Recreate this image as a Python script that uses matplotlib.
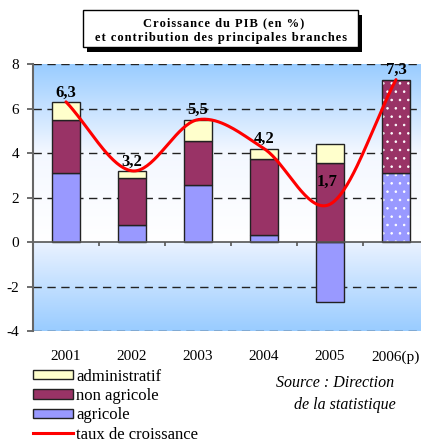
import numpy as np
import matplotlib.pyplot as plt
from matplotlib.colors import LinearSegmentedColormap
from matplotlib.patches import Patch, Rectangle
from matplotlib.lines import Line2D

# Data
years = ['2001', '2002', '2003', '2004', '2005', '2006(p)']
agricole = [3.1, 0.75, 2.55, 0.3, -2.7, 3.1]
non_agricole = [2.4, 2.12, 2.0, 3.45, 3.55, 4.2]
administratif = [0.8, 0.33, 0.95, 0.45, 0.85, 0.0]
croissance = [6.3, 3.2, 5.5, 4.2, 1.7, 7.3]
labels = ['6,3', '3,2', '5,5', '4,2', '1,7', '7,3']
title_lines = ['Croissance du PIB (en %)', 'et contribution des principales branches']

c_adm = '#ffffcc'
c_nag = '#993366'
c_agr = '#9999ff'
edge = '#222222'

plt.rcParams['font.family'] = ['Liberation Serif', 'DejaVu Serif']
plt.rcParams['hatch.linewidth'] = 0.6

fig = plt.figure(figsize=(4.21, 4.42), dpi=100)
ax = fig.add_axes([0.0784, 0.2511, 0.9406, 0.604])
x = np.arange(len(years))

# background gradients
cm_top = LinearSegmentedColormap.from_list('top', ['#ffffff', '#f4f8ff', '#99ccff'])
cm_bot = LinearSegmentedColormap.from_list('bot', ['#99ccff', '#eaf2ff'])
g = np.linspace(0, 1, 256).reshape(-1, 1)
ax.imshow(g, cmap=cm_top, extent=(-0.5, 5.5, 0, 8), origin='lower', aspect='auto', zorder=0)
ax.imshow(g, cmap=cm_bot, extent=(-0.5, 5.5, -4, 0), origin='lower', aspect='auto', zorder=0)
ax.set_xlim(-0.5, 5.5)
ax.set_ylim(-4, 8)

# grid
for yv in [-4, -2, 2, 4, 6, 8]:
    ax.axhline(yv, color='#222222', lw=1.0, ls=(0, (6, 4)), zorder=1)
ax.axhline(0, color='#555555', lw=1.2, zorder=4)

w = 0.41
agr = np.array(agricole)
nag = np.array(non_agricole)
adm = np.array(administratif)
base_nag = np.where(agr > 0, agr, 0)
base_adm = base_nag + nag

n = len(years) - 1
ax.bar(x[:n], agr[:n], w, color=c_agr, edgecolor=edge, lw=1, zorder=3)
ax.bar(x[:n], nag[:n], w, bottom=base_nag[:n], color=c_nag, edgecolor=edge, lw=1, zorder=3)
ax.bar(x[:n], adm[:n], w, bottom=base_adm[:n], color=c_adm, edgecolor=edge, lw=1, zorder=3)

# 2006 (projection) with small white dots
i = n
for val, bot, col in [(agr[i], 0, c_agr), (nag[i], base_nag[i], c_nag)]:
    ax.bar(x[i], val, w, bottom=bot, color=col, edgecolor='white', hatch='..', lw=0, zorder=3)
    ax.bar(x[i], val, w, bottom=bot, fill=False, edgecolor=edge, lw=1, zorder=3)

# smoothed growth line (Catmull-Rom through the data points)
pts = np.column_stack([x, croissance]).astype(float)
ext = np.vstack([pts[0] - (pts[1] - pts[0]), pts, pts[-1] + (pts[-1] - pts[-2])])
curve = []
for k in range(1, len(ext) - 2):
    p0, p1, p2, p3 = ext[k - 1], ext[k], ext[k + 1], ext[k + 2]
    for t in np.linspace(0, 1, 40):
        curve.append(0.5 * ((2 * p1) + (-p0 + p2) * t + (2 * p0 - 5 * p1 + 4 * p2 - p3) * t ** 2
                            + (-p0 + 3 * p1 - 3 * p2 + p3) * t ** 3))
curve = np.array(curve)
ax.plot(curve[:, 0], curve[:, 1], color='#ff0000', lw=2.2, zorder=5, solid_capstyle='round')

# value labels
for xi, yv, lab in zip(x, croissance, labels):
    if lab == '1,7':
        ax.text(xi - 0.05, yv + 1.0, lab, ha='center', va='center', fontsize=12, fontweight='bold', zorder=6)
    else:
        ax.text(xi, yv + 0.42, lab, ha='center', va='center', fontsize=12, fontweight='bold', zorder=6)

# axes styling
for s in ['top', 'right', 'bottom']:
    ax.spines[s].set_visible(False)
ax.spines['left'].set_color('#666666')
ax.spines['left'].set_linewidth(1.5)
ax.spines['left'].set_zorder(4)
ax.set_yticks([-4, -2, 0, 2, 4, 6, 8])
ax.set_yticklabels(['-4', '-2', '0', '2', '4', '6', '8'], fontsize=11)
ax.tick_params(axis='y', length=4, width=1.2, color='#555555', pad=6)
ax.set_xticks(x)
ax.set_xticklabels(years, fontsize=11)
ax.tick_params(axis='x', length=0, pad=14)
ax.vlines(x[:-1] + 0.5, -0.18, 0, color='#555555', lw=1.2, zorder=4)

# title box with shadow
fig.patches.append(Rectangle((0.2067, 0.8824), 0.6532, 0.0837, transform=fig.transFigure,
                             fc='black', ec='none', zorder=0))
fig.patches.append(Rectangle((0.1971, 0.8937), 0.6532, 0.0837, transform=fig.transFigure,
                             fc='white', ec='black', lw=1, zorder=1))
hs = '\u200a'
fig.text(0.530, 0.948, hs.join(title_lines[0]), ha='center', va='center',
         fontsize=9, fontweight='bold', zorder=2)
fig.text(0.524, 0.914, hs.join(title_lines[1]), ha='center', va='center',
         fontsize=9, fontweight='bold', zorder=2)

# legend
handles = [Patch(fc=c_adm, ec=edge, lw=1), Patch(fc=c_nag, ec=edge, lw=1),
           Patch(fc=c_agr, ec=edge, lw=1), Line2D([], [], color='#ff0000', lw=2.2)]
names = ['administratif', 'non agricole', 'agricole', 'taux de croissance']
fig.legend(handles, names, loc='upper left', bbox_to_anchor=(0.078, 0.166), frameon=False,
           fontsize=12, handlelength=2.4, handleheight=0.5, handletextpad=0.2,
           labelspacing=0.2, borderaxespad=0, borderpad=0)

fig.text(0.795, 0.133, 'Source : Direction', ha='center', va='center', fontsize=11.5, style='italic')
fig.text(0.82, 0.0837, 'de la statistique', ha='center', va='center', fontsize=11.5, style='italic')

fig.savefig('out.png', dpi=100)
